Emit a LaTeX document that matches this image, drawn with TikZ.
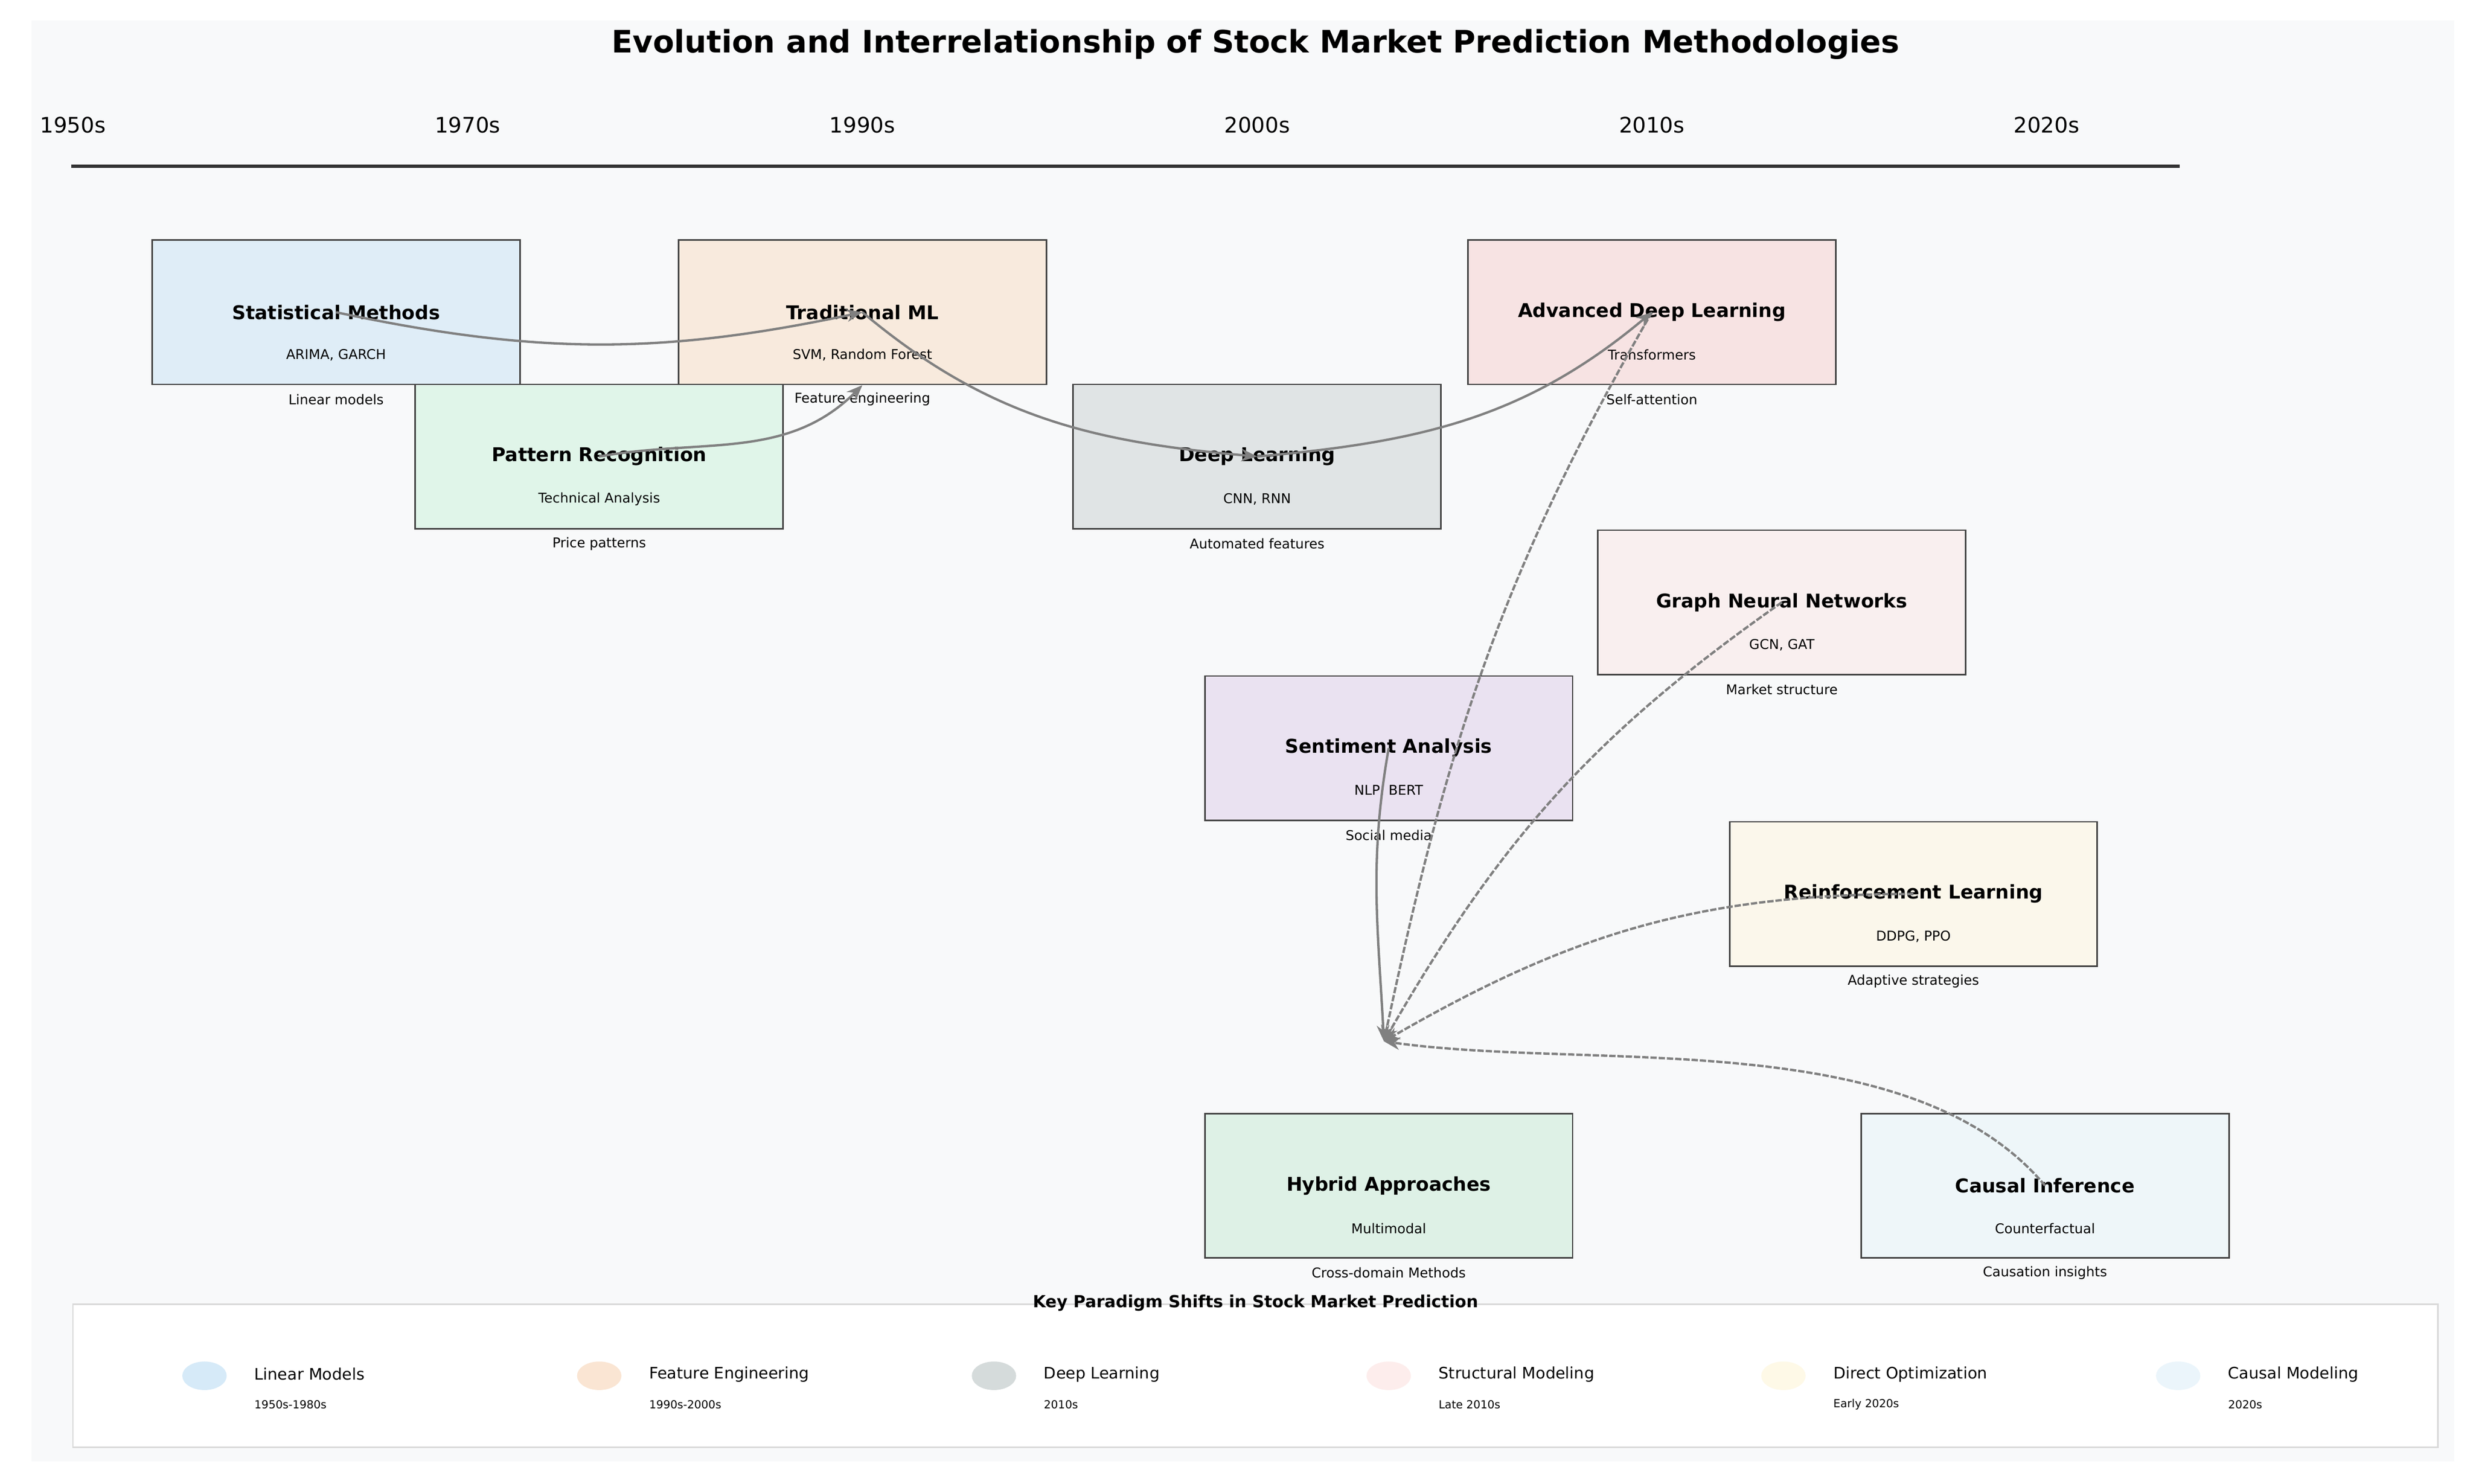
\documentclass[tikz,border=0pt]{standalone}
\usepackage{fontspec}
\setmainfont{DejaVu Sans}
\usetikzlibrary{arrows.meta,positioning}
\definecolor{bgcol}{HTML}{F8F9FA}
\definecolor{edgecol}{HTML}{808080}
\definecolor{boxline}{HTML}{444444}
\newcommand{\method}[6]{%
    \definecolor{mfill#1}{HTML}{#3}
    \node [method, fill=mfill#1] (#1) at #2 {};
    \node [mtitle] at (#1.center) {#4};
    \node [msub] at ([yshift=-27pt]#1.center) {#5};
    \node [msub] at ([yshift=-55pt]#1.center) {#6};
}
\begin{document}
\begin{tikzpicture}[x=1pt, y=-1pt]
        % Define styles
        \tikzset{
            method/.style={rectangle, draw=boxline, line width=1pt, minimum width=232pt, minimum height=91pt, inner sep=0pt},
            mtitle/.style={font=\fontsize{12}{14}\selectfont\bfseries},
            msub/.style={font=\fontsize{8.5}{10}\selectfont},
            arrow/.style={line width=1.5pt, draw=edgecol, -{Stealth[length=10pt, width=8pt]}},
            darrow/.style={arrow, dash pattern=on 4pt off 1.2pt},
            year/.style={font=\fontsize{13.5}{16}\selectfont},
            legtext/.style={font=\fontsize{10}{12}\selectfont, anchor=west},
            legyear/.style={font=\fontsize{7}{8}\selectfont, anchor=west}
        }
        \useasboundingbox (0,0) rectangle (1560,936);
        \fill[bgcol] (20,13) rectangle (1548,922);

        % Title and timeline
        \node (title) at (792,28) {\fontsize{19.5}{22}\selectfont\bfseries Evolution and Interrelationship of Stock Market Prediction Methodologies};
        \foreach \yr [count=\i from 0] in {1950s,1970s,1990s,2000s,2010s,2020s}
            \node [year] (yr\i) at (46+249*\i,79) {\yr};
        \coordinate (tl0) at (45,105);
        \coordinate (tl1) at (1375,105);
        \draw [line width=2.2pt, draw=black!80] (tl0) -- (tl1);

        % Create nodes
        \method{stat}{(212,197)}{DFEDF7}{Statistical Methods}{ARIMA, GARCH}{Linear models}
        \method{trad}{(544,197)}{F8EADD}{Traditional ML}{SVM, Random Forest}{Feature engineering}
        \method{pattern}{(378,288)}{E0F5E9}{Pattern Recognition}{Technical Analysis}{Price patterns}
        \method{dl}{(793,288)}{E0E4E5}{Deep Learning}{CNN, RNN}{Automated features}
        \method{adl}{(1042,197)}{F7E3E3}{Advanced Deep Learning}{Transformers}{Self-attention}
        \method{gnn}{(1124,380)}{F9EFEF}{Graph Neural Networks}{GCN, GAT}{Market structure}
        \method{senti}{(876,472)}{EAE2F1}{Sentiment Analysis}{NLP, BERT}{Social media}
        \method{rl}{(1207,564)}{FBF7EB}{Reinforcement Learning}{DDPG, PPO}{Adaptive strategies}
        \method{hybrid}{(876,748)}{DEF1E6}{Hybrid Approaches}{Multimodal}{Cross-domain Methods}
        \method{causal}{(1290,748)}{EEF6F9}{Causal Inference}{Counterfactual}{Causation insights}
        \coordinate (hub) at (873,657);

        % Create arrows
        \draw [arrow] (stat.center) to[out=-12, in=192] (trad.center);
        \draw [arrow] (pattern.center) to[out=10, in=225] (trad.south);
        \draw [arrow] (trad.center) to[out=-40, in=175] (dl.center);
        \draw [arrow] (dl.center) to[out=5, in=220] (adl.center);
        \draw [darrow] (adl.center) to[out=240, in=78] (hub);
        \draw [darrow] (gnn.center) to[out=215, in=60] (hub);
        \draw [arrow] (senti.center) to[out=260, in=93] (hub);
        \draw [darrow] (rl.center) to[out=180, in=30] (hub);
        \draw [darrow] (causal.center) to[out=130, in=-8, looseness=0.8] (hub);

        % Legend
        \node [draw=gray!30, fill=white, line width=1pt, minimum width=1492pt, minimum height=90pt, inner sep=0pt] (legend) at (792,868) {};
        \node [font=\fontsize{10.5}{12}\selectfont\bfseries] (legtitle) at (792,822) {Key Paradigm Shifts in Stock Market Prediction};
        \foreach \col/\lab/\yrs [count=\i from 0] in {D6EAF8/Linear Models/1950s-1980s, FAE5D3/Feature Engineering/1990s-2000s, D5DBDB/Deep Learning/2010s, FDEDEC/Structural Modeling/Late 2010s, FEF9E7/Direct Optimization/Early 2020s, EBF5FB/Causal Modeling/2020s}{
            \definecolor{legcol}{HTML}{\col}
            \fill [legcol] (129+249*\i,868) ellipse (14pt and 9pt);
            \node [legtext] (leg\i) at (157+249*\i,867) {\lab};
            \node [legyear] (legy\i) at (157+249*\i,886) {\yrs};
        }
    \end{tikzpicture}
\end{document}
